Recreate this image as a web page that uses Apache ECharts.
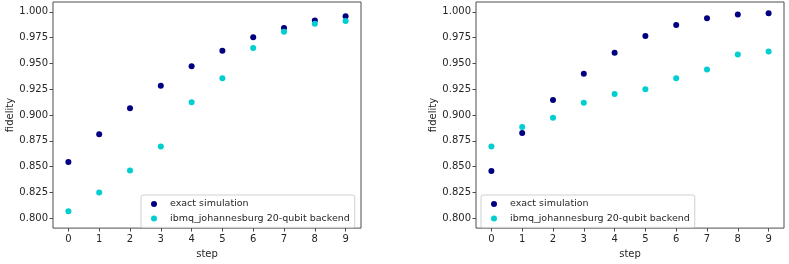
<!DOCTYPE html>
<html>
<head>
<meta charset="utf-8">
<script src="https://cdn.jsdelivr.net/npm/echarts@6/dist/echarts.min.js"></script>
<style>
html,body{margin:0;padding:0;background:#fff;}
#c{width:789px;height:264px;}
</style>
</head>
<body>
<div id="c"></div>
<script>
// ---- data ----
const steps = [0, 1, 2, 3, 4, 5, 6, 7, 8, 9];
const leftExact = [0.8545, 0.8813, 0.9065, 0.9285, 0.9474, 0.9624, 0.9754, 0.9844, 0.9917, 0.9958];
const leftIbmq  = [0.8067, 0.8250, 0.8462, 0.8696, 0.9125, 0.9356, 0.9651, 0.9808, 0.9885, 0.9913];
const rightExact = [0.8458, 0.8827, 0.9147, 0.9401, 0.9603, 0.9766, 0.9872, 0.9939, 0.9974, 0.9987];
const rightIbmq  = [0.8696, 0.8885, 0.8974, 0.9119, 0.9205, 0.9250, 0.9356, 0.9442, 0.9587, 0.9615];
const yTicks = [0.800, 0.825, 0.850, 0.875, 0.900, 0.925, 0.950, 0.975, 1.000];
const xTicks = [0, 1, 2, 3, 4, 5, 6, 7, 8, 9];
const seriesNames = ['exact simulation', 'ibmq_johannesburg 20-qubit backend'];
const xLabel = 'step';
const yLabel = 'fidelity';

// ---- chart ----
const FONT = 'DejaVu Sans';
const txt = '#262626';
const spine = '#4d4d4d';
const colors = ['#000080', '#00CED1'];

function pair(a) { return a.map((v, i) => [steps[i], v]); }

function xAxis(gi) {
  return {
    type: 'value', gridIndex: gi, min: -0.5, max: 9.5,
    name: xLabel, nameLocation: 'middle', nameGap: 18,
    nameTextStyle: { fontFamily: FONT, fontSize: 10, color: txt },
    axisLine: { show: false, onZero: false },
    axisTick: { show: true, inside: false, length: 3.5, customValues: xTicks, lineStyle: { color: spine } },
    axisLabel: { customValues: xTicks, margin: 6, fontFamily: FONT, fontSize: 10, color: txt },
    splitLine: { show: false }
  };
}
function yAxis(gi) {
  return {
    type: 'value', gridIndex: gi, min: 0.7904, max: 1.0096,
    name: yLabel, nameLocation: 'middle', nameGap: 38, nameRotate: 90,
    nameTextStyle: { fontFamily: FONT, fontSize: 10, color: txt },
    axisLine: { show: false, onZero: false },
    axisTick: { show: true, inside: false, length: 3.5, customValues: yTicks, lineStyle: { color: spine } },
    axisLabel: { customValues: yTicks, margin: 5, fontFamily: FONT, fontSize: 10, color: txt,
      formatter: v => v.toFixed(3) },
    splitLine: { show: false }
  };
}
function legend(left) {
  return {
    left: left, top: 195, orient: 'vertical',
    data: seriesNames,
    icon: 'circle', itemWidth: 22, itemHeight: 6, itemGap: 2.4,
    padding: [3, 5, 3, 10],
    borderColor: '#d0d0d0', borderWidth: 1, borderRadius: 2,
    backgroundColor: 'rgba(255,255,255,0.8)',
    textStyle: { fontFamily: FONT, fontSize: 9.5, color: txt, lineHeight: 12 },
    selectedMode: false
  };
}
function sc(name, data, xi, color) {
  return {
    type: 'scatter', name: name, xAxisIndex: xi, yAxisIndex: xi,
    data: data, symbol: 'circle', symbolSize: 6,
    itemStyle: { color: color, opacity: 1 }, emphasis: { disabled: true }
  };
}

const chart = echarts.init(document.getElementById('c'), null, { renderer: 'canvas' });
chart.setOption({
  animation: false,
  backgroundColor: '#fff',
  grid: [
    { left: 53, top: 2, width: 308, height: 229, show: true, borderColor: spine, borderWidth: 1, backgroundColor: 'transparent' },
    { left: 476, top: 2, width: 308, height: 229, show: true, borderColor: spine, borderWidth: 1, backgroundColor: 'transparent' }
  ],
  xAxis: [xAxis(0), xAxis(1)],
  yAxis: [yAxis(0), yAxis(1)],
  legend: [legend(141), legend(481)],
  series: [
    sc(seriesNames[0], pair(leftExact), 0, colors[0]),
    sc(seriesNames[1], pair(leftIbmq), 0, colors[1]),
    sc(seriesNames[0], pair(rightExact), 1, colors[0]),
    sc(seriesNames[1], pair(rightIbmq), 1, colors[1])
  ]
});
</script>
</body>
</html>
